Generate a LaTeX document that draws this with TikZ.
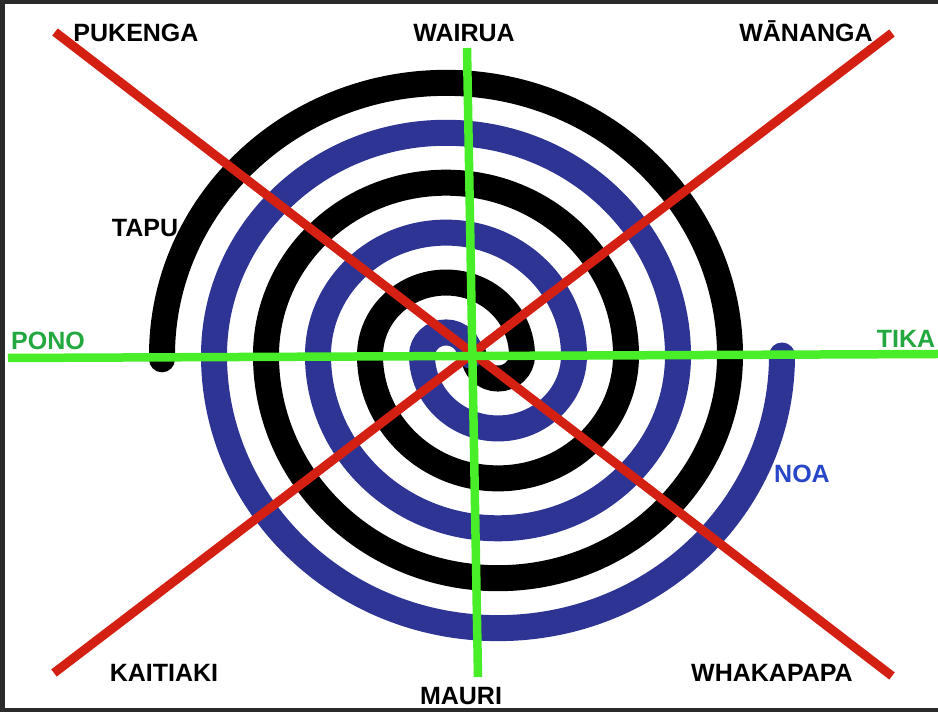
\documentclass[tikz,border=0pt]{standalone}
\usepackage{fontspec}
\setmainfont{Liberation Sans}
\definecolor{spblue}{RGB}{46,52,148}
\definecolor{spred}{RGB}{212,32,18}
\definecolor{spgreen}{RGB}{72,238,40}
\definecolor{txtgreen}{RGB}{34,168,62}
\definecolor{txtblue}{RGB}{40,70,200}
\definecolor{frameclr}{RGB}{42,42,42}
\begin{document}
\begin{tikzpicture}[x=1pt,y=1pt,
  band/.style={line width=26pt,line cap=round},
  redline/.style={draw=spred,line width=9pt},
  greenline/.style={draw=spgreen,line width=8.5pt},
  lbl/.style={font=\bfseries\fontsize{25}{30}\selectfont,inner sep=0pt,anchor=base},
]
\useasboundingbox (0,0) rectangle (938,712);
\fill[frameclr] (0,0) rectangle (938,712);
\fill[white] (5,4) rectangle (938,708);
% spiral
\begin{scope}[shift={(472,356.5)},yscale=0.96]
  \draw[band,black] (2,0) arc[start angle=180,end angle=360,radius=24]
     arc[start angle=0,end angle=180,radius=76]
     arc[start angle=180,end angle=360,radius=128]
     arc[start angle=0,end angle=180,radius=180]
     arc[start angle=180,end angle=360,radius=232]
     arc[start angle=0,end angle=180,radius=284] -- ++(0,-4);
  \draw[band,spblue] (-2,0) arc[start angle=0,end angle=180,radius=24]
     arc[start angle=180,end angle=360,radius=76]
     arc[start angle=0,end angle=180,radius=128]
     arc[start angle=180,end angle=360,radius=180]
     arc[start angle=0,end angle=180,radius=232]
     arc[start angle=180,end angle=360,radius=284];
\end{scope}
% axes
\coordinate (r1a) at (55,680);
\coordinate (r1b) at (892,36);
\coordinate (r2a) at (54,39);
\coordinate (r2b) at (892,679);
\coordinate (gva) at (467,664);
\coordinate (gvb) at (478,35);
\coordinate (gha) at (8,354);
\coordinate (ghb) at (938,358);
\draw[redline] (r1a) -- (r1b);
\draw[redline] (r2a) -- (r2b);
\draw[greenline] (gva) -- (gvb);
\draw[greenline] (gha) -- (ghb);
% labels
\node[lbl] (pukenga) at (136,670) {PUKENGA};
\node[lbl] (wairua) at (464,670) {WAIRUA};
\node[lbl] (wananga) at (806,670) {WĀNANGA};
\node[lbl] (tapu) at (145,475) {TAPU};
\node[lbl,text=txtgreen] (pono) at (48,362) {PONO};
\node[lbl,text=txtgreen] (tika) at (906,364) {TIKA};
\node[lbl,text=txtblue] (noa) at (802,229) {NOA};
\node[lbl] (kaitiaki) at (164,30) {KAITIAKI};
\node[lbl] (mauri) at (461,7) {MAURI};
\node[lbl] (whakapapa) at (772,30) {WHAKAPAPA};
\end{tikzpicture}
\end{document}
